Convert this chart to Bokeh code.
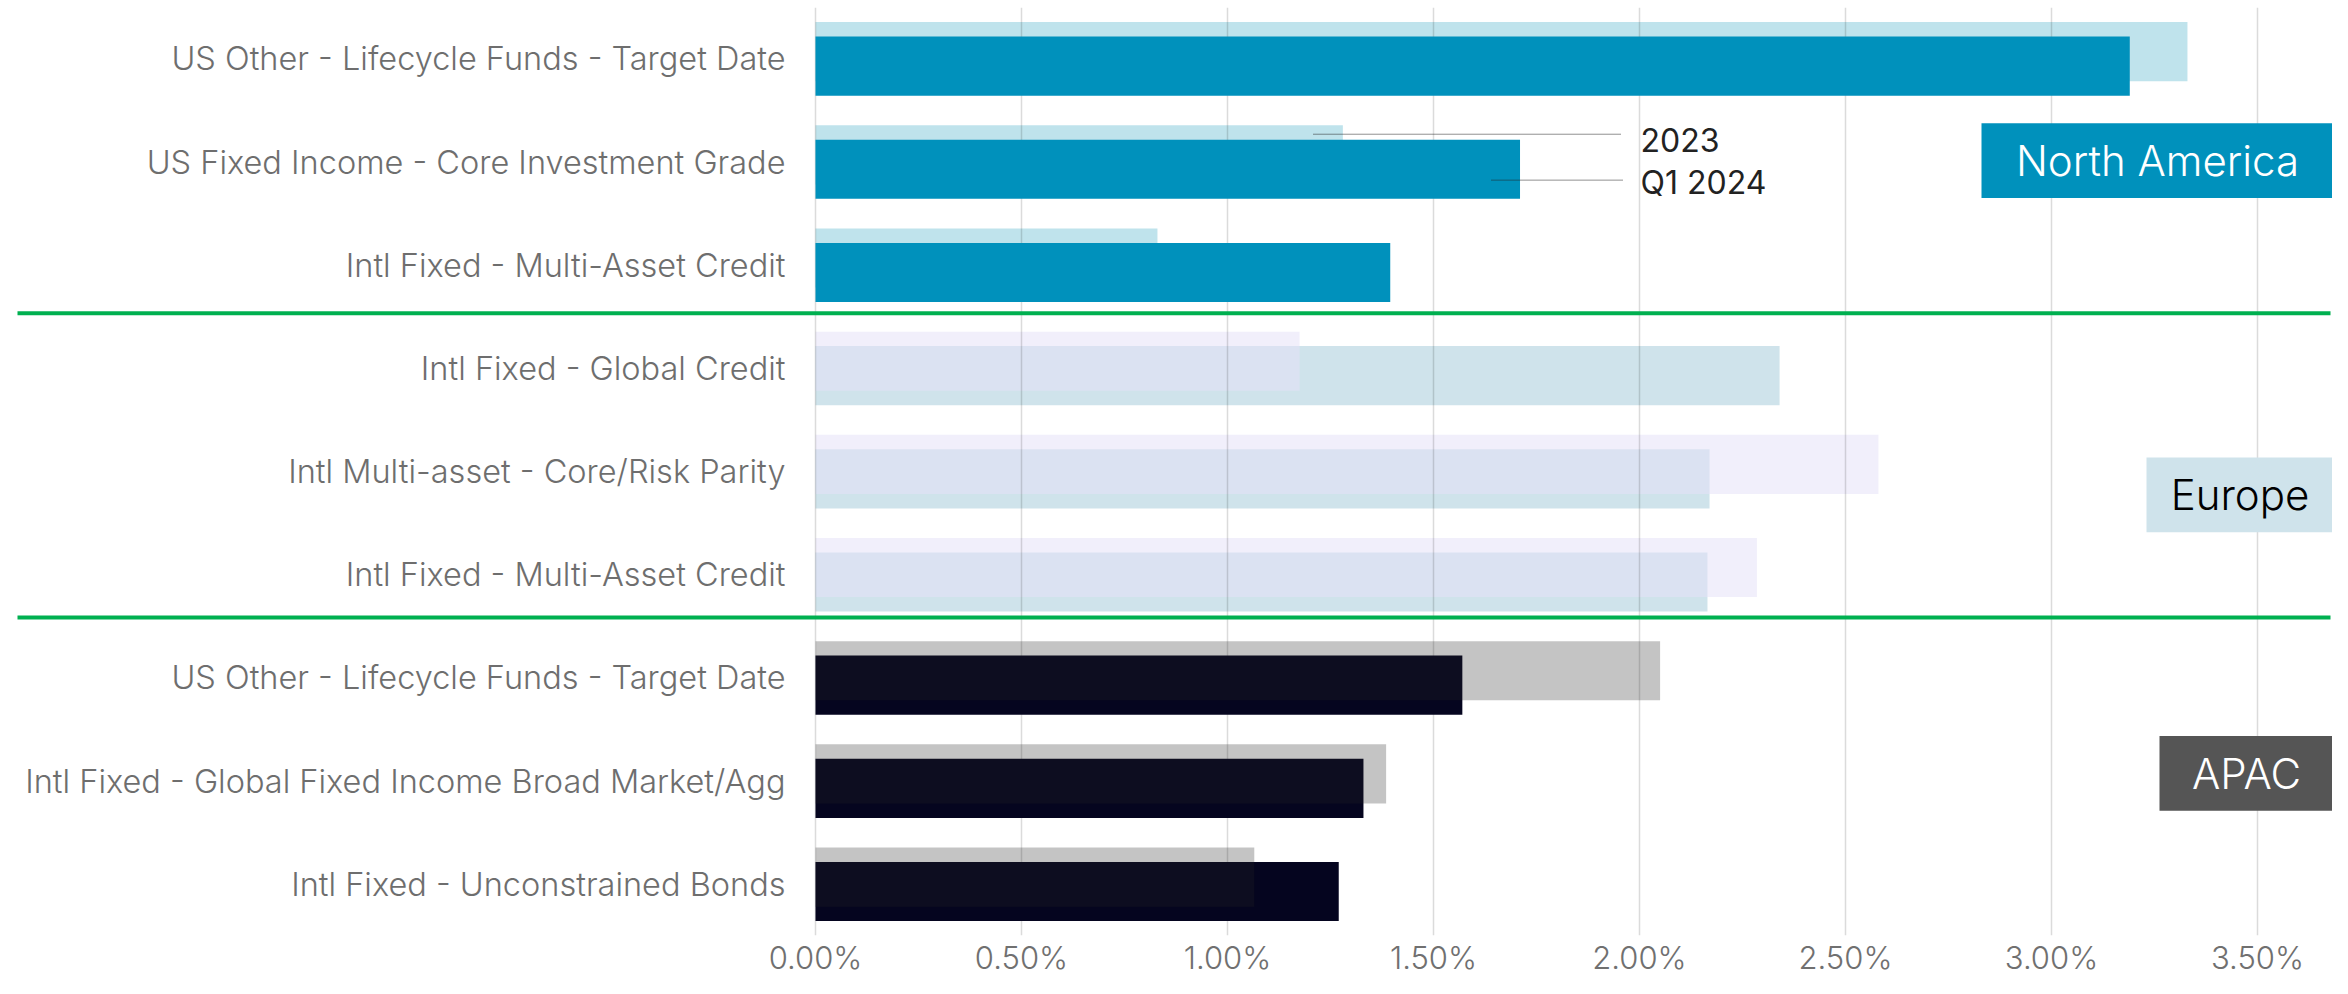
from bokeh.plotting import figure
from bokeh.models import ColumnDataSource, Range1d, FixedTicker, PrintfTickFormatter
from bokeh.core.properties import value
from bokeh.embed import file_html
from bokeh.resources import INLINE

# ---------------- data ----------------
categories = [
    "US Other - Lifecycle Funds - Target Date",
    "US Fixed Income - Core Investment Grade",
    "Intl Fixed - Multi-Asset Credit",
    "Intl Fixed - Global Credit",
    "Intl Multi-asset - Core/Risk Parity",
    "Intl Fixed - Multi-Asset Credit",
    "US Other - Lifecycle Funds - Target Date",
    "Intl Fixed - Global Fixed Income Broad Market/Agg",
    "Intl Fixed - Unconstrained Bonds",
]
row_region = ["North America"] * 3 + ["Europe"] * 3 + ["APAC"] * 3
pct_2023 = [3.33, 1.28, 0.83, 1.175, 2.58, 2.285, 2.05, 1.385, 1.065]
pct_q1_2024 = [3.19, 1.71, 1.395, 2.34, 2.17, 2.165, 1.57, 1.33, 1.27]
regions = ["North America", "Europe", "APAC"]
series_names = ["2023", "Q1 2024"]
x_ticks = [0.0, 0.5, 1.0, 1.5, 2.0, 2.5, 3.0, 3.5]

# ---------------- layout (pixel constants) ----------------
W, H = 2332, 978
FRAME_TOP, FRAME_BOTTOM = 7, 937
PX_PER_PCT = 412.0
ZERO_PX = 815.0
ROW0_PX = 58.5
ROW_PX = 103.4
X0 = -ZERO_PX / PX_PER_PCT
X1 = X0 + W / PX_PER_PCT
BAR_H = 0.573
BAR_OFF = 0.07

def fx(px):
    return X0 + px / PX_PER_PCT

def fy(py):
    return (py - ROW0_PX) / ROW_PX

FONT_LIGHT = "Inter Light"
FONT_REG = "Inter"

styles = {
    "North America": dict(c23="#BFE3EC", a23=1.0, l23="image", c24="#0091BC", l24="glyph", top="24"),
    "Europe": dict(c23="#E6E1F7", a23=0.55, l23="image", c24="#CFE3EB", l24="image", top="23"),
    "APAC": dict(c23="#262626", a23=0.27, l23="glyph", c24="#05051F", l24="glyph", top="23"),
}

box_geom = {  # pixels: left, right, top, bottom
    "North America": (1981, 2333, 123, 198),
    "Europe": (2146, 2333, 458, 533),
    "APAC": (2159, 2333, 737, 812),
}
box_fill = {"North America": "#0091BC", "Europe": "#CFE3EB", "APAC": "#555555"}
box_text = {"North America": "#FFFFFF", "Europe": "#000000", "APAC": "#FFFFFF"}

p = figure(width=W, height=H, output_backend="svg", toolbar_location=None,
           x_range=Range1d(X0, X1), y_range=Range1d(fy(FRAME_BOTTOM), fy(FRAME_TOP)),
           y_axis_location=None, min_border_left=0, min_border_right=0,
           min_border_top=FRAME_TOP, min_border_bottom=H - FRAME_BOTTOM)
p.outline_line_color = None
p.background_fill_color = "white"
p.border_fill_color = "white"

# grid
p.xgrid.ticker = FixedTicker(ticks=x_ticks)
p.xgrid.grid_line_color = "black"
p.xgrid.grid_line_alpha = 0.14
p.xgrid.grid_line_width = 1.5
p.ygrid.visible = False

# axis
ax = p.xaxis[0]
ax.ticker = FixedTicker(ticks=x_ticks)
ax.formatter = PrintfTickFormatter(format="%.2f%%")
ax.axis_line_color = None
ax.major_tick_line_color = None
ax.major_tick_out = 0
ax.minor_tick_line_color = None
ax.major_label_text_font = FONT_LIGHT
ax.major_label_text_font_size = "31px"
ax.major_label_text_color = "#707070"
ax.major_label_standoff = 3

# bars
for reg in regions:
    idx = [i for i, r in enumerate(row_region) if r == reg]
    st = styles[reg]
    src = ColumnDataSource(dict(
        y23=[i - BAR_OFF for i in idx],
        y24=[i + BAR_OFF for i in idx],
        v23=[pct_2023[i] for i in idx],
        v24=[pct_q1_2024[i] for i in idx],
    ))
    r23 = dict(y="y23", left=0, right="v23", height=BAR_H, source=src,
               fill_color=st["c23"], fill_alpha=st["a23"], line_color=None, level=st["l23"])
    r24 = dict(y="y24", left=0, right="v24", height=BAR_H, source=src,
               fill_color=st["c24"], line_color=None, level=st["l24"])
    if st["top"] == "24":
        p.hbar(**r23)
        p.hbar(**r24)
    else:
        p.hbar(**r24)
        p.hbar(**r23)

# category labels
p.text(x=[fx(785)] * len(categories), y=list(range(len(categories))), text=categories,
       text_font=value(FONT_LIGHT), text_font_size="32.5px", text_color="#6E6E6E",
       text_align="right", text_baseline="middle")

# green separators
sep_y = [fy(313.3), fy(618.3)]
p.segment(x0=[fx(17)] * 2, x1=[fx(2330)] * 2, y0=sep_y, y1=sep_y,
          line_color="#00B050", line_width=4)

# legend leaders and labels
p.segment(x0=[fx(1313), fx(1491)], x1=[fx(1620), fx(1623)],
          y0=[fy(134), fy(180)], y1=[fy(134), fy(180)],
          line_color="#222222", line_width=1, line_dash="1 1")
p.text(x=[fx(1640)] * 2, y=[fy(140), fy(182)], text=series_names,
       text_font=value(FONT_REG), text_font_size="32px", text_color="#222222",
       text_align="left", text_baseline="middle")

# region boxes
for reg in regions:
    l, r, t, b = box_geom[reg]
    p.quad(left=[fx(l)], right=[fx(r)], top=[fy(t)], bottom=[fy(b)],
           fill_color=box_fill[reg], line_color=None)
    p.text(x=[(fx(l) + fx(r)) / 2], y=[(fy(t) + fy(b)) / 2], text=[reg],
           text_font=value(FONT_LIGHT), text_font_size="42px", text_color=box_text[reg],
           text_align="center", text_baseline="middle")

open("out.html", "w").write(file_html(p, INLINE))
